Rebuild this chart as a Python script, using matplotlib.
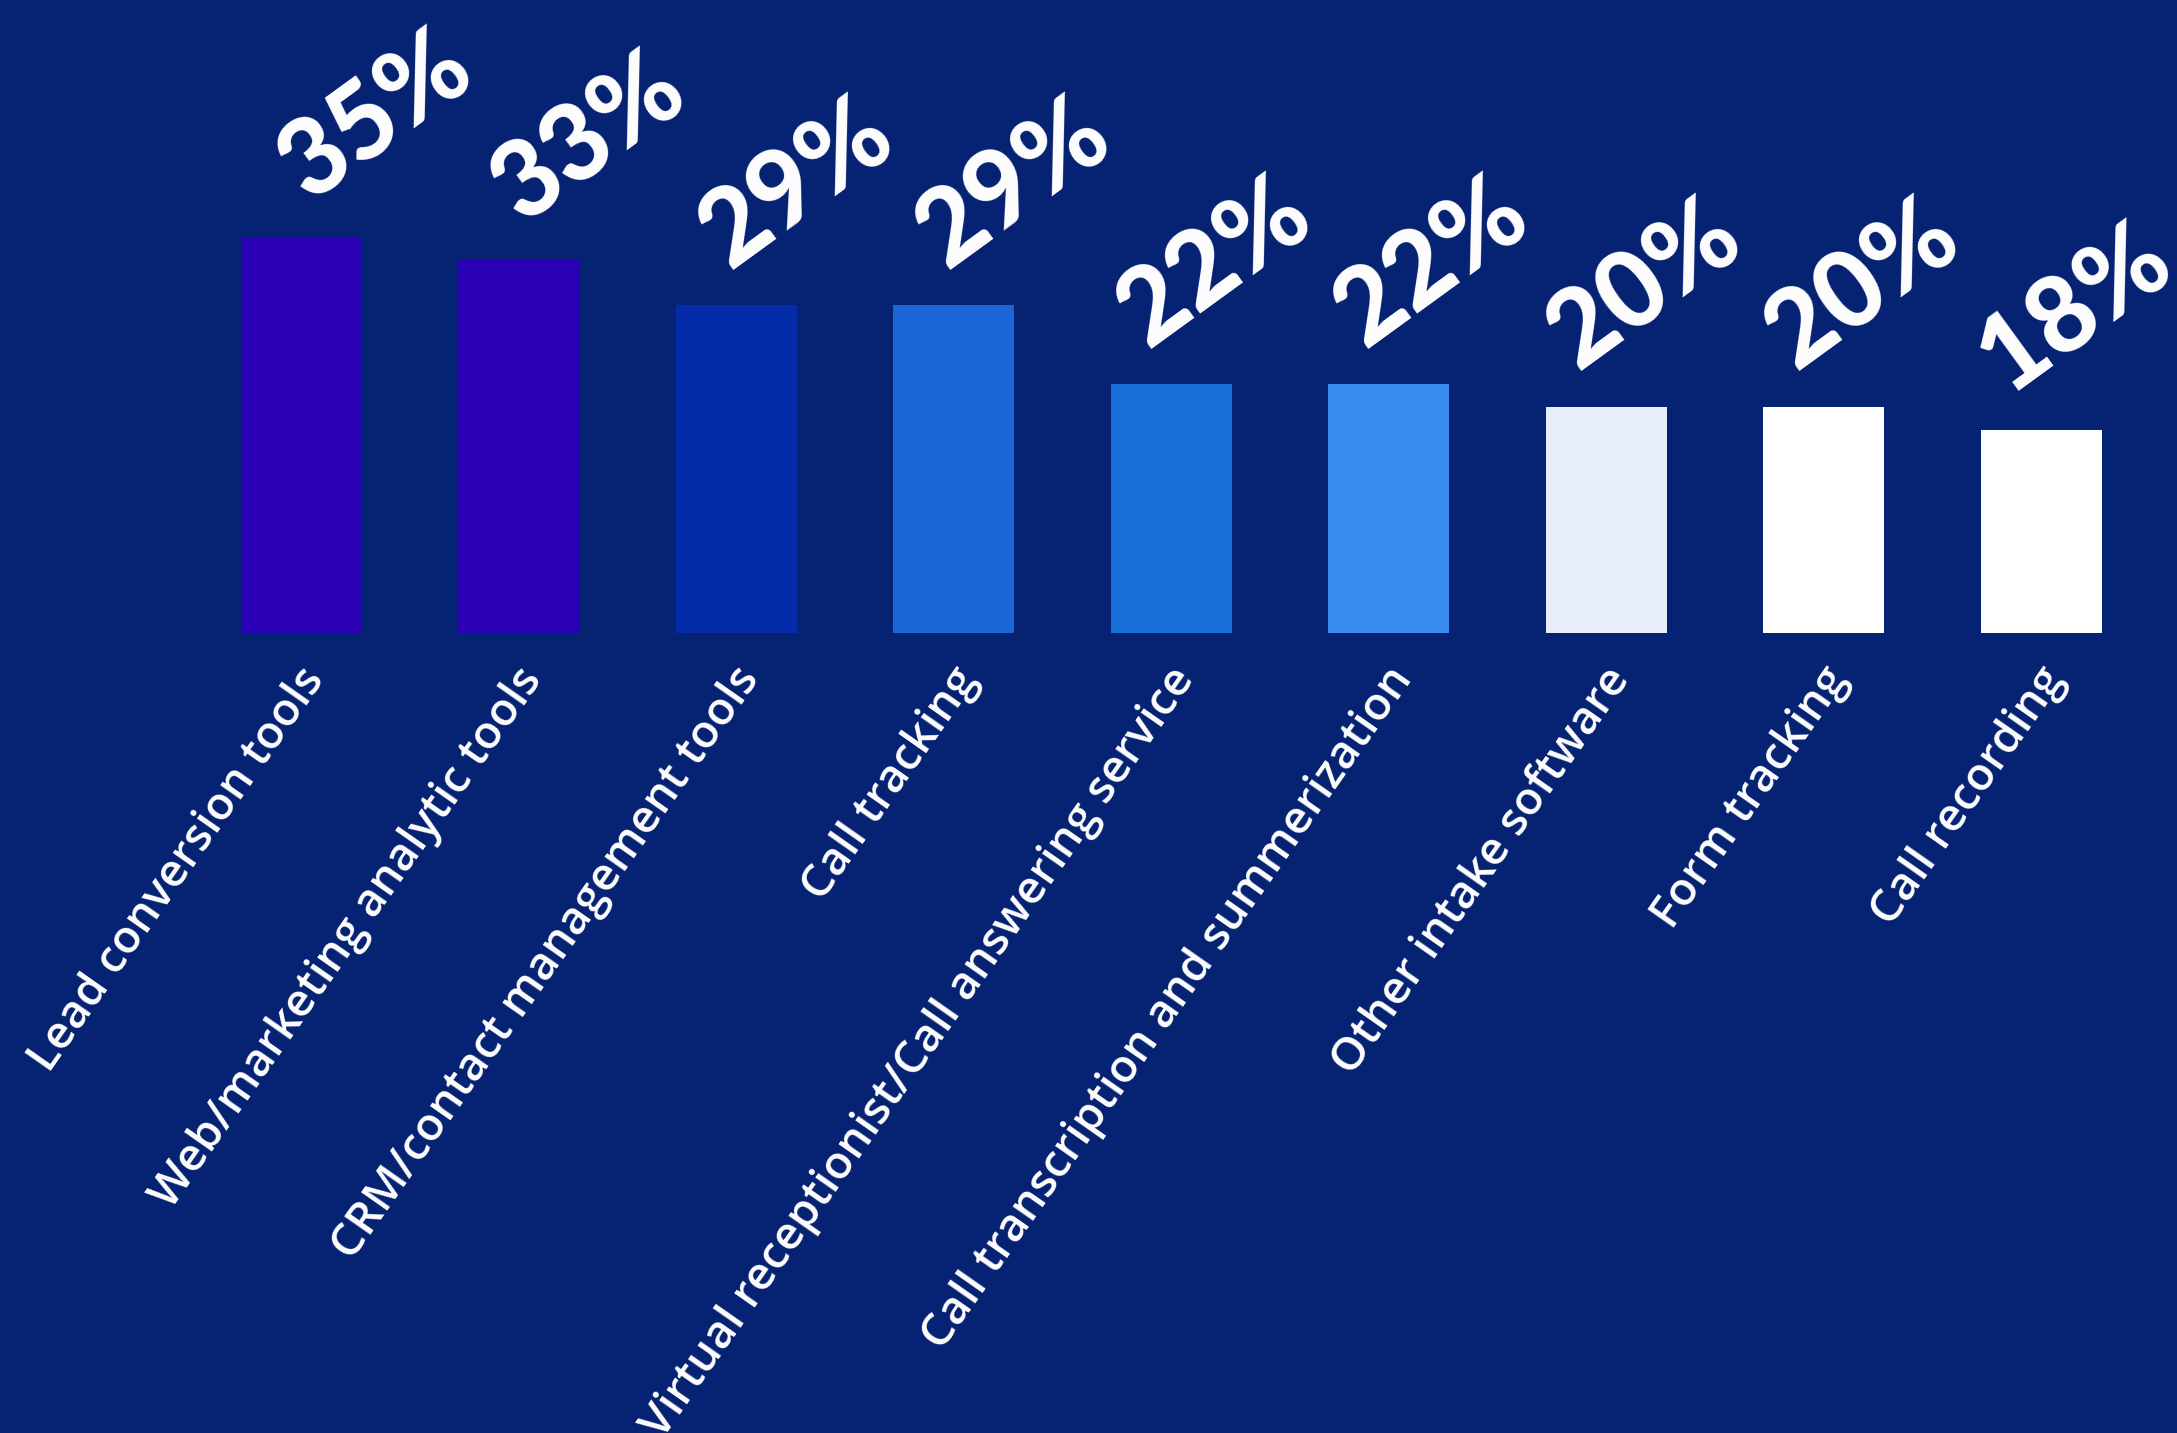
import matplotlib.pyplot as plt
import matplotlib.transforms as mtransforms
import numpy as np

# Share of respondents using each intake tool (%)
categories = [
    'Lead conversion tools',
    'Web/marketing analytic tools',
    'CRM/contact management tools',
    'Call tracking',
    'Virtual receptionist/Call answering service',
    'Call transcription and summerization',
    'Other intake software',
    'Form tracking',
    'Call recording',
]
values = [35, 33, 29, 29, 22, 22, 20, 20, 18]
bar_colors = ['#2A00B4', '#2A00B4', '#042BA8', '#1A66D6', '#176FD7',
              '#388AEE', '#E8EEFB', '#FFFFFF', '#FFFFFF']

BG = '#052273'

fig = plt.figure(figsize=(21.77, 14.33), dpi=100)
fig.patch.set_facecolor(BG)
ax = fig.add_axes([0, 0.5583, 1, 0.4417])
ax.set_facecolor(BG)

x = np.arange(len(categories))
ax.bar(x, values, width=0.555, color=bar_colors, zorder=2)

ax.set_xlim(-1.385, 8.624)
ax.set_ylim(0, 56.0)

# value labels sit on a slanted band: the higher the label, the further right
fig.canvas.draw()
for xi, v in zip(x, values):
    top_px = ax.transData.transform((xi, v))[1] - ax.transData.transform((xi, 0))[1]
    dy = 122
    dx = 0.216 * (top_px + dy) - 37
    ax.annotate(f'{v}%', xy=(xi, v), xytext=(dx, dy), textcoords='offset pixels',
                rotation=36, rotation_mode='anchor', ha='center', va='center',
                fontsize=76, fontweight='black', family='Lato', color='white',
                annotation_clip=False)

ax.set_xticks(x)
ax.set_xticklabels(categories, rotation=55, ha='right', va='center',
                   rotation_mode='anchor', fontsize=33, fontweight='semibold',
                   family='Open Sans', color='white')
ax.tick_params(axis='x', length=0, pad=24)
# nudge the category labels a little right and down
shift = mtransforms.ScaledTranslation(0.15, -0.06, fig.dpi_scale_trans)
for lbl in ax.get_xticklabels():
    lbl.set_transform(lbl.get_transform() + shift)
ax.set_yticks([])
for s in ax.spines.values():
    s.set_visible(False)

fig.savefig('out.png', dpi=100, facecolor=BG)
